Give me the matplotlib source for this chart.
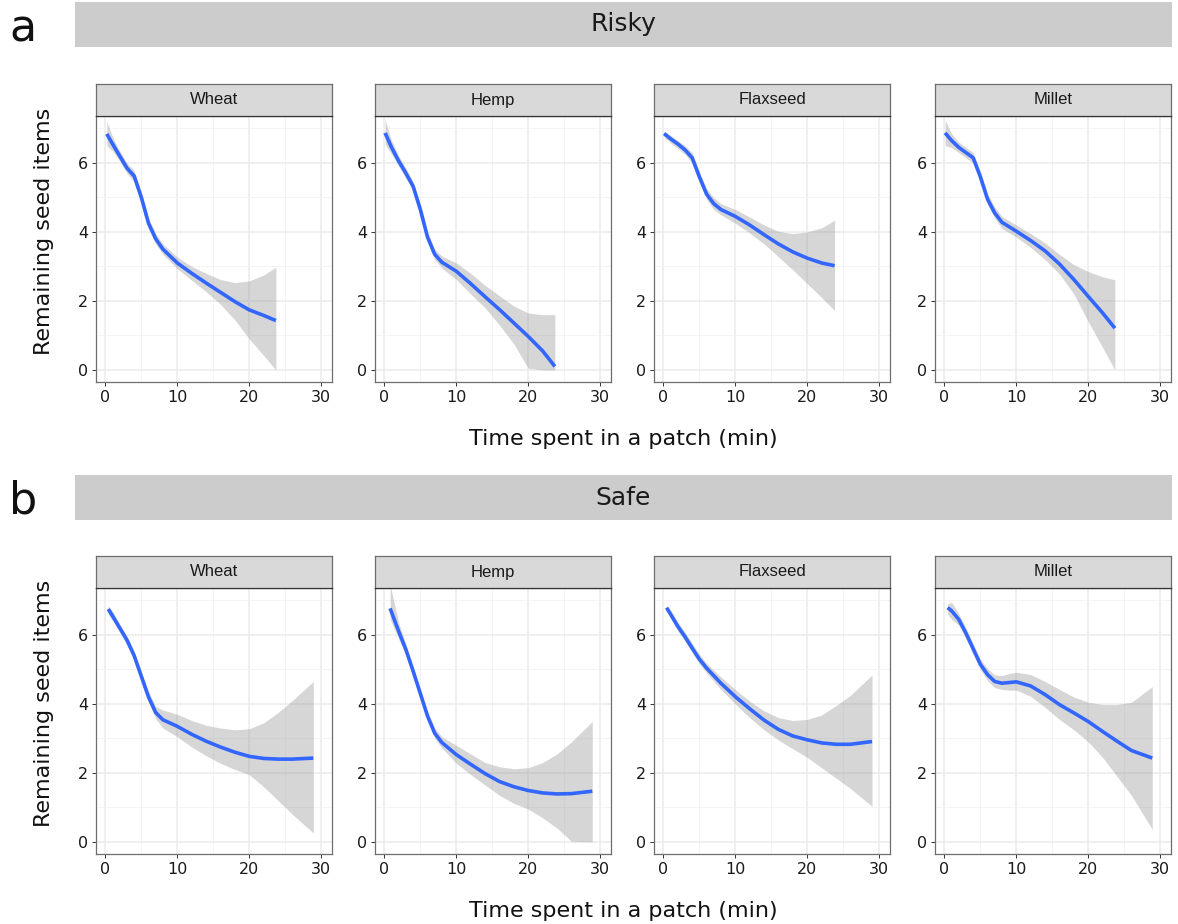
import numpy as np
import matplotlib
matplotlib.use("Agg")
import matplotlib.pyplot as plt
from matplotlib.patches import Rectangle

seeds = ["Wheat", "Hemp", "Flaxseed", "Millet"]
conditions = ["Risky", "Safe"]
panel_letters = ["a", "b"]

# risky condition: smoothed fits with confidence bands
risky_wheat_x = [0.2, 1, 2, 3, 4, 5, 6, 7, 8, 10, 12, 14, 16, 18, 20, 22, 23.7]
risky_wheat_y = [6.84, 6.55, 6.2, 5.85, 5.62, 5.0, 4.25, 3.8, 3.5, 3.1, 2.8, 2.52, 2.25, 1.98, 1.74, 1.58, 1.43]
risky_wheat_hi = [7.2, 6.75, 6.35, 6.0, 5.78, 5.15, 4.4, 3.95, 3.65, 3.27, 3.0, 2.8, 2.62, 2.53, 2.58, 2.75, 2.98]
risky_wheat_lo = [6.5, 6.35, 6.05, 5.7, 5.45, 4.85, 4.1, 3.65, 3.35, 2.93, 2.6, 2.27, 1.9, 1.45, 0.9, 0.42, 0.0]

risky_hemp_x = [0.1, 1, 2, 3, 4, 5, 6, 7, 8, 10, 12, 14, 16, 18, 20, 22, 23.7]
risky_hemp_y = [6.87, 6.45, 6.05, 5.7, 5.32, 4.65, 3.85, 3.35, 3.12, 2.86, 2.5, 2.12, 1.75, 1.36, 0.97, 0.55, 0.1]
risky_hemp_hi = [7.25, 6.65, 6.2, 5.85, 5.45, 4.8, 4.0, 3.5, 3.3, 3.1, 2.8, 2.45, 2.15, 1.85, 1.65, 1.6, 1.6]
risky_hemp_lo = [6.55, 6.25, 5.9, 5.55, 5.18, 4.5, 3.7, 3.2, 2.95, 2.62, 2.2, 1.8, 1.3, 0.75, 0.05, 0.0, 0.0]

risky_flax_x = [0.1, 1, 2, 3, 4, 5, 6, 7, 8, 10, 12, 14, 16, 18, 20, 22, 23.8]
risky_flax_y = [6.85, 6.7, 6.55, 6.38, 6.15, 5.6, 5.1, 4.82, 4.65, 4.45, 4.2, 3.92, 3.65, 3.42, 3.24, 3.1, 3.02]
risky_flax_hi = [6.92, 6.8, 6.65, 6.5, 6.3, 5.75, 5.25, 5.0, 4.82, 4.65, 4.43, 4.2, 4.02, 3.95, 4.0, 4.12, 4.34]
risky_flax_lo = [6.75, 6.58, 6.42, 6.25, 6.0, 5.45, 4.95, 4.65, 4.5, 4.25, 3.97, 3.65, 3.28, 2.9, 2.5, 2.1, 1.72]

risky_millet_x = [0.1, 1, 2, 3, 4, 5, 6, 7, 8, 10, 12, 14, 16, 18, 20, 22, 23.7]
risky_millet_y = [6.87, 6.65, 6.45, 6.3, 6.15, 5.6, 4.95, 4.55, 4.28, 4.02, 3.75, 3.45, 3.07, 2.62, 2.13, 1.65, 1.21]
risky_millet_hi = [7.25, 6.85, 6.6, 6.45, 6.3, 5.75, 5.1, 4.72, 4.45, 4.2, 3.95, 3.68, 3.35, 3.05, 2.85, 2.7, 2.61]
risky_millet_lo = [6.5, 6.45, 6.3, 6.15, 6.0, 5.45, 4.8, 4.4, 4.1, 3.85, 3.55, 3.2, 2.78, 2.2, 1.4, 0.65, 0.0]

# safe condition
safe_wheat_x = [0.4, 1, 2, 3, 4, 5, 6, 7, 8, 10, 12, 14, 16, 18, 20, 22, 24, 26, 28.9]
safe_wheat_y = [6.75, 6.55, 6.2, 5.85, 5.4, 4.8, 4.2, 3.75, 3.54, 3.35, 3.12, 2.92, 2.75, 2.6, 2.48, 2.42, 2.4, 2.4, 2.43]
safe_wheat_hi = [6.85, 6.68, 6.32, 5.97, 5.53, 4.93, 4.36, 3.93, 3.82, 3.7, 3.52, 3.38, 3.3, 3.25, 3.28, 3.45, 3.75, 4.1, 4.65]
safe_wheat_lo = [6.6, 6.42, 6.08, 5.73, 5.27, 4.67, 4.05, 3.57, 3.3, 3.05, 2.75, 2.5, 2.28, 2.1, 1.95, 1.6, 1.2, 0.8, 0.26]

safe_hemp_x = [0.8, 2, 3, 4, 5, 6, 7, 8, 10, 12, 14, 16, 18, 20, 22, 24, 26, 28.9]
safe_hemp_y = [6.77, 6.1, 5.57, 4.95, 4.3, 3.65, 3.15, 2.88, 2.53, 2.25, 1.98, 1.75, 1.6, 1.49, 1.42, 1.39, 1.4, 1.47]
safe_hemp_hi = [7.45, 6.35, 5.72, 5.08, 4.42, 3.78, 3.3, 3.05, 2.8, 2.55, 2.3, 2.18, 2.12, 2.15, 2.3, 2.55, 2.9, 3.49]
safe_hemp_lo = [6.45, 5.88, 5.42, 4.82, 4.18, 3.52, 3.0, 2.72, 2.28, 1.95, 1.65, 1.35, 1.12, 0.95, 0.7, 0.4, 0.02, 0.0]

safe_flax_x = [0.45, 1, 2, 3, 4, 5, 6, 7, 8, 10, 12, 14, 16, 18, 20, 22, 24, 26, 29]
safe_flax_y = [6.79, 6.6, 6.25, 5.95, 5.62, 5.3, 5.04, 4.82, 4.6, 4.21, 3.86, 3.53, 3.26, 3.07, 2.96, 2.87, 2.83, 2.83, 2.91]
safe_flax_hi = [6.85, 6.72, 6.38, 6.08, 5.76, 5.44, 5.18, 4.98, 4.78, 4.42, 4.08, 3.8, 3.6, 3.52, 3.55, 3.68, 3.95, 4.25, 4.84]
safe_flax_lo = [6.7, 6.5, 6.12, 5.82, 5.48, 5.16, 4.9, 4.66, 4.42, 4.0, 3.6, 3.25, 2.95, 2.7, 2.45, 2.15, 1.85, 1.55, 1.03]

safe_millet_x = [0.45, 1, 2, 3, 4, 5, 6, 7, 8, 9, 10, 12, 14, 16, 18, 20, 22, 24, 26, 28.9]
safe_millet_y = [6.79, 6.7, 6.45, 6.05, 5.6, 5.15, 4.85, 4.65, 4.6, 4.62, 4.64, 4.52, 4.27, 3.98, 3.74, 3.49, 3.2, 2.92, 2.65, 2.43]
safe_millet_hi = [6.9, 6.95, 6.62, 6.2, 5.75, 5.3, 5.02, 4.84, 4.82, 4.88, 4.92, 4.85, 4.65, 4.42, 4.2, 4.05, 3.98, 3.98, 4.05, 4.5]
safe_millet_lo = [6.6, 6.45, 6.28, 5.9, 5.45, 5.0, 4.68, 4.47, 4.42, 4.4, 4.4, 4.22, 3.9, 3.55, 3.25, 2.9, 2.45, 1.9, 1.35, 0.36]

fits = {
    "Risky": [
        (risky_wheat_x, risky_wheat_y, risky_wheat_lo, risky_wheat_hi),
        (risky_hemp_x, risky_hemp_y, risky_hemp_lo, risky_hemp_hi),
        (risky_flax_x, risky_flax_y, risky_flax_lo, risky_flax_hi),
        (risky_millet_x, risky_millet_y, risky_millet_lo, risky_millet_hi),
    ],
    "Safe": [
        (safe_wheat_x, safe_wheat_y, safe_wheat_lo, safe_wheat_hi),
        (safe_hemp_x, safe_hemp_y, safe_hemp_lo, safe_hemp_hi),
        (safe_flax_x, safe_flax_y, safe_flax_lo, safe_flax_hi),
        (safe_millet_x, safe_millet_y, safe_millet_lo, safe_millet_hi),
    ],
}

W, H = 1178, 924
fig = plt.figure(figsize=(W / 100, H / 100), dpi=100)

def fx(px):
    return px / W

def fy(py):
    return 1 - py / H

panel_left = [96, 375, 654, 935]
panel_w = 236
row_tops = [116, 588]      # top of plotting area (px)
panel_h = 266
strip_h = 32
header_tops = [2, 475]
header_h = 45

border_col = "#6e6e6e"

for r, cond in enumerate(conditions):
    # big grey header bar
    ht = header_tops[r]
    fig.patches.append(Rectangle((fx(75), fy(ht + header_h)), fx(1172) - fx(75), header_h / H,
                                 transform=fig.transFigure, facecolor="#cccccc", edgecolor="none"))
    fig.text(fx(623), fy(ht + header_h / 2), cond, ha="center", va="center", fontsize=18, color="#1a1a1a")
    fig.text(fx(9), fy(ht + header_h / 2 + 4), panel_letters[r], ha="left", va="center", fontsize=32, color="#111111")

    for c, seed in enumerate(seeds):
        top = row_tops[r]
        ax = fig.add_axes([fx(panel_left[c]), fy(top + panel_h), panel_w / W, panel_h / H])
        x, y, lo, hi = fits[cond][c]
        ax.fill_between(x, lo, hi, color="#999999", alpha=0.4, linewidth=0, zorder=2)
        ax.plot(x, y, color="#3366FF", lw=2.6, solid_capstyle="butt", solid_joinstyle="round", zorder=3)

        ax.set_xlim(-1.3, 31.5)
        ax.set_ylim(-0.35, 7.36)
        ax.set_xticks([0, 10, 20, 30])
        ax.set_xticks([5, 15, 25], minor=True)
        ax.set_yticks([0, 2, 4, 6])
        ax.set_yticks([1, 3, 5, 7], minor=True)
        ax.grid(which="major", color="#ebebeb", lw=1.1, zorder=0)
        ax.grid(which="minor", color="#f2f2f2", lw=0.6, zorder=0)
        ax.set_axisbelow(True)
        ax.tick_params(which="major", length=3, width=0.7, color="#333333",
                       labelsize=11.5, labelcolor="#1a1a1a", pad=2.5)
        ax.tick_params(which="minor", length=0)
        for sp in ax.spines.values():
            sp.set_color(border_col)
            sp.set_linewidth(0.9)

        # facet strip
        sax = fig.add_axes([fx(panel_left[c]), fy(top), panel_w / W, strip_h / H])
        sax.set_facecolor("#d9d9d9")
        sax.set_xticks([])
        sax.set_yticks([])
        for sp in sax.spines.values():
            sp.set_color(border_col)
            sp.set_linewidth(0.9)
        sax.spines["bottom"].set_color("#333333")
        sax.text(0.5, 0.5, seed, ha="center", va="center", fontsize=12,
                 family="Liberation Sans", color="#1a1a1a", transform=sax.transAxes)

    # shared axis labels for the row
    fig.text(fx(623), fy(row_tops[r] + panel_h + 57), "Time spent in a patch (min)",
             ha="center", va="center", fontsize=16, color="#111111")
    fig.text(fx(44), fy(row_tops[r] + panel_h / 2 - 18), "Remaining seed items",
             ha="center", va="center", rotation=90, fontsize=16, color="#111111")

fig.savefig("out.png", dpi=100, facecolor="white")
